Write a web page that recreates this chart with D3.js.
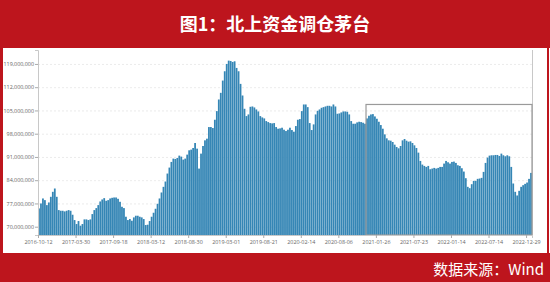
<!DOCTYPE html>
<html><head><meta charset="utf-8">
<script src="https://cdn.jsdelivr.net/npm/d3@7/dist/d3.min.js"></script>
<style>body{margin:0;background:#fff}svg{display:block}</style>
</head><body><svg id="c" width="550" height="282"></svg>
<script>
const title = "图1：北上资金调仓茅台";
const source = "数据来源：Wind";
// holdings, millions of shares (sampled along the axis)
const values = [
75.5,77,78.5,78,76.5,77.3,79,80.5,81.5,79,
75,74.8,74.8,74.6,74.8,75,74.8,73.6,72,70.8,
71.7,70.3,70.8,72.2,72.2,72,72.2,73.8,75,75.6,
76.5,77.6,78.2,78.6,77.8,78,78.5,78.7,78.8,78.8,
78.4,77.5,76,75.6,73,72,72.3,71.8,72.8,73.3,
73.3,73,72.8,72.3,70.5,70.6,71.7,73,74.2,75.4,
76.9,78.5,80.3,82,83.6,86,87.8,89.5,90.5,90.4,
90.7,91.4,91.1,90.2,90.5,91.7,93,93.2,93.7,95.2,
93.5,87.5,92,94.3,96,96.5,100,100,99.7,102.2,
104.8,108.3,110.3,114,116.8,119,120,119.9,119.6,119.8,
117.8,116.8,113,109.5,105.5,103.3,103.8,106.1,106.2,105.9,
105.3,104.7,103.3,102.9,102.6,101.8,101.5,101.2,101.1,101.2,
100,99.5,99.6,99.8,99.2,98.8,99.2,99.8,99.1,98.6,
100.3,102.2,102.4,104.8,106.8,106.8,106,101.2,99.1,100.8,
103.8,104.9,105.3,105.8,106,106.2,106.4,106.4,106.2,106.8,
106.2,104,104.1,104.4,104.7,104.7,104.6,103.8,101.8,101,
101,101.4,101.6,101.5,101.3,101,102.6,103.4,103.8,103.9,
103.2,102.5,101.6,100.6,99.5,97.8,96.6,96,95.9,95.5,
94.7,94,93.6,94.3,96,96.4,95.9,95.6,95.7,95.2,
94.5,93.7,92.3,89.8,88.7,88.3,88,88.3,87.3,87.5,
87.7,87.5,87.7,88,88,89,89.8,89.4,89,89.5,
89.6,89.2,88.5,88.3,87.6,86.6,84.6,82,81.6,82.8,
83.8,83.8,84.4,84.5,84.7,86.5,89.2,90.8,91.4,91.5,
91.5,91.6,91.6,91.3,92,91.5,91.2,91.5,91.2,88,
83,80.5,79.4,80.8,82,82.5,82.9,83.3,84.4,86.2
];
const tickLabels = ["2016-10-12","2017-03-30","2017-09-18","2018-03-12","2018-08-30","2019-03-01","2019-08-21","2020-02-14","2020-08-06","2021-01-26","2021-07-23","2022-01-14","2022-07-14","2022-12-29"];
const tickEvery = 19;
const yTicks = [70,77,84,91,98,105,112,119];
const yDomain = [67.5,123.2];
const boxStartIndex = 166;
const boxTopValue = 106.8;

const RED = "#bd151d";
const svg = d3.select("#c");
svg.append("rect").attr("width",550).attr("height",282).attr("fill",RED);
svg.append("rect").attr("x",3).attr("y",48).attr("width",544).attr("height",205).attr("fill","#fff");
svg.append("rect").attr("x",549).attr("y",48).attr("width",1).attr("height",205).attr("fill","#fff");

svg.append("text").attr("x",275).attr("y",31).attr("text-anchor","middle")
  .attr("font-family","'Noto Sans CJK SC'").attr("font-weight","bold").attr("font-size",18)
  .attr("fill","#fff").text(title);
svg.append("text").attr("x",544).attr("y",275).attr("text-anchor","end")
  .attr("font-family","'Noto Sans CJK SC'").attr("font-size",15)
  .attr("fill","#fff").text(source);

const L=38,R=532,T=50,B=235;
const n = values.length;
const x = d3.scaleLinear().domain([0,n]).range([L,R]);
const y = d3.scaleLinear().domain(yDomain).range([B,T]);
const step = x(1)-x(0);

// grid
svg.append("g").selectAll("line").data(yTicks).join("line")
  .attr("x1",L).attr("x2",R).attr("y1",d=>y(d)+0.5).attr("y2",d=>y(d)+0.5)
  .attr("stroke","#e6e6e6").attr("stroke-width",0.8).attr("stroke-dasharray","2,2");

// bars
svg.append("g").selectAll("rect").data(values).join("rect")
  .attr("x",(d,i)=>x(i)+step*0.05).attr("width",step*0.9)
  .attr("y",d=>y(d)).attr("height",d=>B-y(d))
  .attr("fill","#3586b5");

// right border
svg.append("line").attr("x1",R+0.5).attr("x2",R+0.5).attr("y1",T).attr("y2",B)
  .attr("stroke","#c8c8c8").attr("stroke-width",1);

// annotation box
svg.append("rect").attr("x",x(boxStartIndex)).attr("y",y(boxTopValue))
  .attr("width",R-x(boxStartIndex)).attr("height",B-y(boxTopValue))
  .attr("fill","none").attr("stroke","#9a9a9a").attr("stroke-width",1.2);

// axes
const yAxis = d3.axisLeft(y).tickValues(yTicks).tickSize(3).tickPadding(1)
  .tickFormat(d=>d3.format(",")(d*1e6));
const gy = svg.append("g").attr("transform",`translate(${L},0)`).call(yAxis);
gy.select(".domain").attr("stroke","#c8c8c8");
gy.selectAll(".tick line").attr("stroke","#aaa");
gy.selectAll("text").attr("font-family","'Open Sans'").attr("font-size",5.4).attr("fill","#666");

const tickIdx = tickLabels.map((d,i)=>i*tickEvery);
const xAxis = d3.axisBottom(x).tickValues(tickIdx).tickSize(3).tickPadding(2)
  .tickFormat((d,i)=>tickLabels[i]);
const gx = svg.append("g").attr("transform",`translate(0,${B})`).call(xAxis);
gx.select(".domain").attr("stroke","#c8c8c8");
gx.selectAll(".tick line").attr("stroke","#aaa");
gx.selectAll("text").attr("font-family","'Open Sans'").attr("font-size",5.4).attr("fill","#666");
</script></body></html>
